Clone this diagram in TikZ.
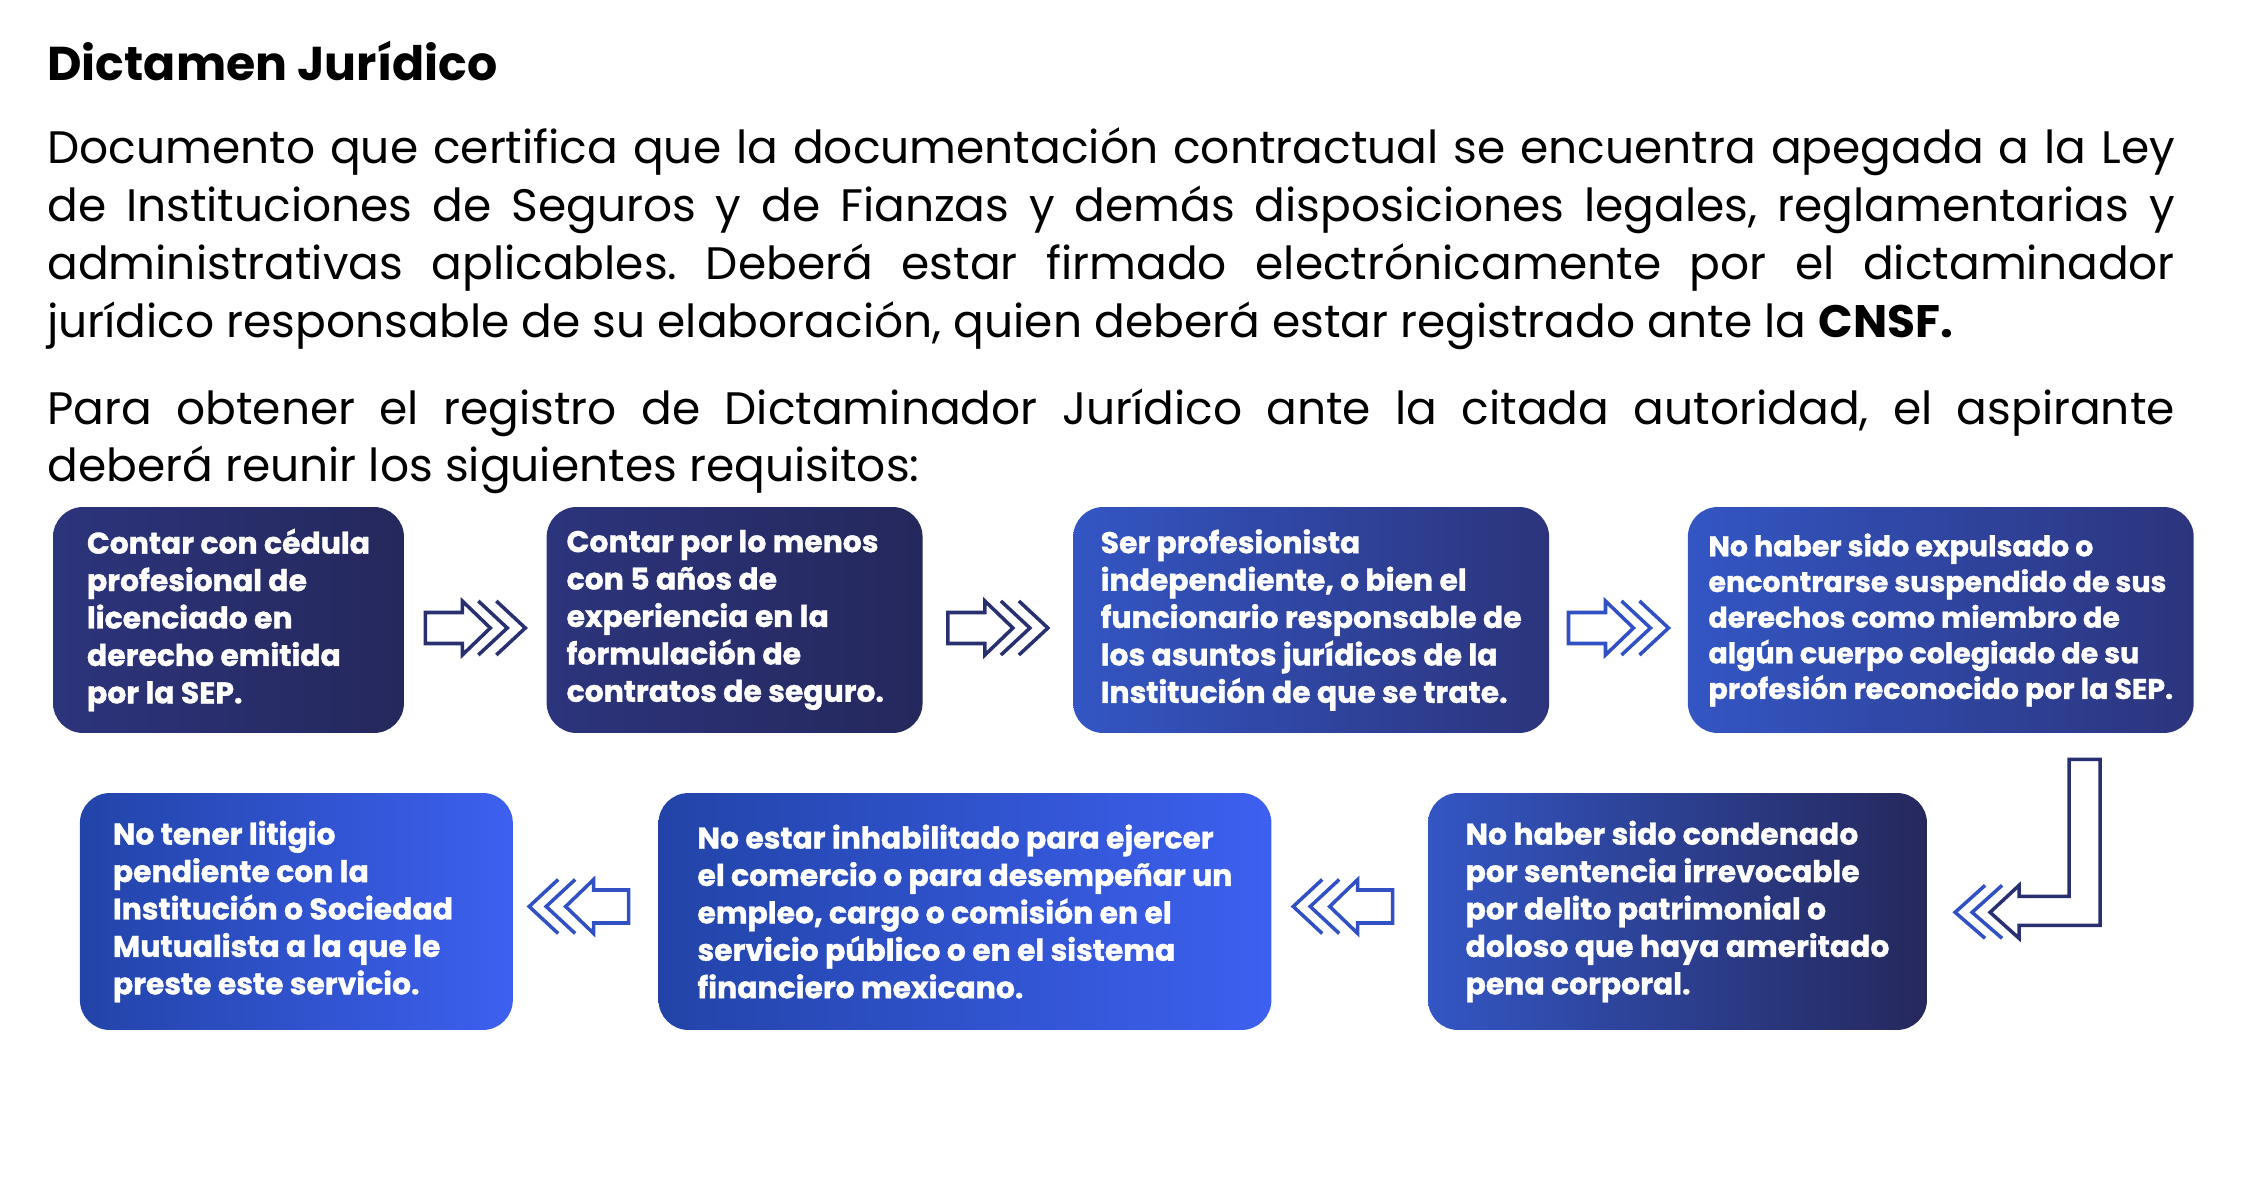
\documentclass[tikz,border=0pt]{standalone}
\usepackage{fontspec}
\setmainfont{Poppins}
\frenchspacing
\usetikzlibrary{positioning,calc}
\definecolor{navyA}{RGB}{44,52,124}
\definecolor{navyB}{RGB}{37,40,92}
\definecolor{blueA}{RGB}{51,86,196}
\definecolor{blueB}{RGB}{34,68,168}
\definecolor{blueC}{RGB}{61,96,240}
\definecolor{arrnavy}{RGB}{40,48,112}
\definecolor{arrblue}{RGB}{48,80,196}

\begin{document}
\begin{tikzpicture}[x=0.02cm,y=-0.02cm,
  req/.style={rounded corners=0.6cm,minimum height=4.52cm,align=left,text=white,inner sep=0pt,font=\fontsize{17}{21.3}\selectfont\bfseries\addfontfeature{FakeBold=1.2}},
  reqlow/.style={req,minimum height=4.74cm},
  glyph/.style={line width=2pt}]
\useasboundingbox (0,0) rectangle (2241,1189);
% heading and text
\node[anchor=base west,inner sep=0pt,font=\fontsize{27}{30}\selectfont\bfseries] (title) at (47,81) {Dictamen Jurídico};
\node[anchor=base west,inner sep=0pt,text width=42.56cm,align=justify,font=\fontsize{25.9}{33}\selectfont] (intro) at (47,164) {%
\makebox[42.56cm][s]{Documento que certifica que la documentación contractual se encuentra apegada a la Ley}\\
\makebox[42.56cm][s]{de Instituciones de Seguros y de Fianzas y demás disposiciones legales, reglamentarias y}\\
\makebox[42.56cm][s]{administrativas aplicables. Deberá estar firmado electrónicamente por el dictaminador}\\
jurídico responsable de su elaboración, quien deberá estar registrado ante la \textbf{CNSF.}};
\node[anchor=base west,inner sep=0pt,text width=42.56cm,align=justify,font=\fontsize{25.9}{33}\selectfont] (asks) at (47,424) {%
\makebox[42.56cm][s]{Para obtener el registro de Dictaminador Jurídico ante la citada autoridad, el aspirante}\\
deberá reunir los siguientes requisitos:};
% first row
\node[req,minimum width=7.02cm,left color=navyA,right color=navyB] (b1) at (228.5,620) {Contar con cédula\\profesional de\\licenciado en\\derecho emitida\\por la SEP.};
\node[req,minimum width=7.52cm,text width=6.72cm,left color=navyA,right color=navyB,right=2.84cm of b1] (b2) {\spaceskip=0pt\relax Contar por lo menos\\con 5 años de\\experiencia en la\\formulación de\\contratos de seguro.};
\node[req,minimum width=9.52cm,left color=blueA,right color=navyA,right=3cm of b2] (b3) {Ser profesionista\\independiente, o bien el\\funcionario responsable de\\los asuntos jurídicos de la\\Institución de que se trate.};
\node[req,minimum width=10.12cm,left color=blueA,right color=navyA,right=2.76cm of b3,font=\fontsize{16.2}{20.3}\selectfont\bfseries\addfontfeature{FakeBold=1.2}] (b4) {No haber sido expulsado o\\encontrarse suspendido de sus\\derechos como miembro de\\algún cuerpo colegiado de su\\profesión reconocido por la SEP.};
% second row
\node[reqlow,minimum width=9.98cm,left color=blueA,right color=navyB] (b5) at (1677.5,911.5) {No haber sido condenado\\por sentencia irrevocable\\por delito patrimonial o\\doloso que haya ameritado\\pena corporal.};
\node[reqlow,minimum width=12.26cm,left color=blueB,right color=blueC,left=3.12cm of b5] (b6) {No estar inhabilitado para ejercer\\el comercio o para desempeñar un\\empleo, cargo o comisión en el\\servicio público o en el sistema\\financiero mexicano.};
\node[reqlow,minimum width=8.66cm,text width=7.34cm,left color=blueB,right color=blueC,left=2.9cm of b6] (b7) {\spaceskip=0pt\relax No tener litigio\\pendiente con la\\Institución o Sociedad\\Mutualista a la que le\\preste este servicio.};
% arrows
\foreach \a/\b/\c in {b1/b2/arrnavy,b2/b3/arrnavy,b3/b4/arrblue}{
  \coordinate (m) at ($(\a.east)!0.5!(\b.west)+(0,8)$);
  \draw[glyph,\c] ([shift={(-50,-15.5)}]m) -- ++(37,0) -- ++(0,-11.5) -- ++(28,27) -- ++(-28,27) -- ++(0,-11.5) -- ++(-37,0) -- cycle;
  \draw[glyph,\c] ([shift={(3,-27)}]m) -- ++(29,27) -- ++(-29,27);
  \draw[glyph,\c] ([shift={(21,-27)}]m) -- ++(29,27) -- ++(-29,27);
}
\foreach \a/\b in {b5/b6,b6/b7}{
  \coordinate (m) at ($(\a.west)!0.5!(\b.east)+(-7,-5)$);
  \draw[glyph,arrblue] ([shift={(50,-16.5)}]m) -- ++(-35,0) -- ++(0,-10.5) -- ++(-28,27) -- ++(28,27) -- ++(0,-10.5) -- ++(35,0) -- cycle;
  \draw[glyph,arrblue] ([shift={(-3.5,-27)}]m) -- ++(-29,27) -- ++(29,27);
  \draw[glyph,arrblue] ([shift={(-20.5,-27)}]m) -- ++(-29,27) -- ++(29,27);
}
\begin{scope}[shift={(b4.south east)}]
\draw[glyph,arrnavy] (-125,26) -- (-94,26) -- (-94,192) -- (-175,192) -- (-175,205) -- (-204,179) -- (-175,152) -- (-175,163) -- (-125,163) -- cycle;
\draw[glyph,arrblue] (-192,152) -- (-222,179) -- (-192,205);
\draw[glyph,arrblue] (-209,152) -- (-239,179) -- (-209,205);
\end{scope}
\end{tikzpicture}
\end{document}
